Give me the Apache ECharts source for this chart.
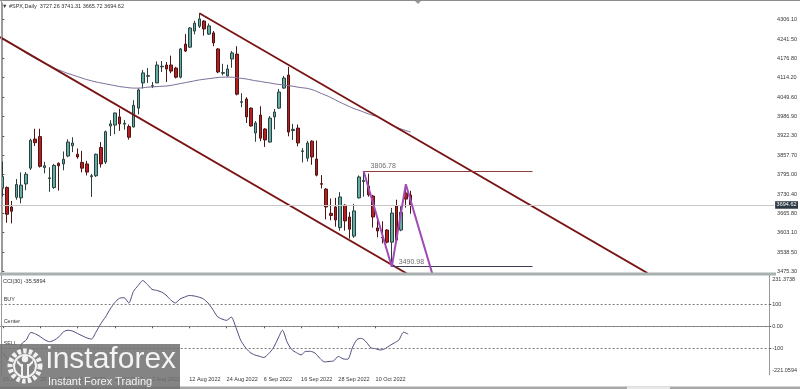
<!DOCTYPE html>
<html><head><meta charset="utf-8">
<script src="https://cdn.jsdelivr.net/npm/echarts@6/dist/echarts.min.js"></script>
<style>html,body{margin:0;padding:0;background:#fff}#c{width:800px;height:389px}</style>
</head><body><div id="c"></div>
<script>
// ---------- DATA ----------
const monthDays = [
  ['Jun', [15,16,17,21,22,23,24,27,28,29,30]],
  ['Jul', [1,5,6,7,8,11,12,13,14,15,18,19,20,21,22,25,26,27,28,29]],
  ['Aug', [1,2,3,4,5,8,9,10,11,12,15,16,17,18,19,22,23,24,25,26,29,30,31]],
  ['Sep', [1,2,6,7,8,9,12,13,14,15,16,19,20,21,22,23,26,27,28,29,30]],
  ['Oct', [3,4,5,6,7,10,11,12,13,14,17,18,19]]
];
const opens  = [3750,3752,3688,3720,3718,3764,3816,3912,3920,3818,3782,3752,3832,3830,3856,3890,3862,3835,3830,3788,3791,3884,3836,3955,3958,3985,3961,3953,3952,4014,4097,4119,4086,4097,4150,4156,4156,4146,4116,4225,4215,4268,4284,4301,4258,4262,4209,4129,4120,4176,4192,4033,4044,4014,3932,3991,3945,3902,3985,4014,4080,4123,3940,3948,3871,3849,3905,3846,3765,3747,3667,3688,3620,3694,3655,3592,3718,3772,3757,3724,3619,3588,3612,3572,3691,3612,3734,3727.26];
const closes = [3788,3664,3674,3762,3760,3796,3908,3900,3822,3824,3784,3825,3824,3845,3902,3899,3853,3816,3803,3791,3862,3830,3936,3962,3998,3962,3964,3918,4023,4074,4130,4121,4088,4156,4152,4143,4136,4116,4209,4202,4278,4294,4308,4275,4285,4229,4133,4131,4143,4196,4060,4035,3985,3955,3965,3915,3909,3981,4001,4067,4113,3935,3944,3899,3873,3899,3853,3793,3763,3688,3660,3645,3721,3642,3615,3675,3787,3776,3728,3655,3609,3586,3572,3668,3579,3671,3714,3694.62];
const lows   = [3722,3636,3634,3712,3700,3743,3810,3889,3818,3799,3738,3748,3742,3809,3852,3869,3847,3802,3792,3721,3787,3818,3830,3922,3928,3939,3943,3910,3950,3993,4079,4097,4080,4097,4133,4100,4129,4112,4112,4199,4212,4257,4278,4253,4255,4218,4129,4122,4118,4147,4056,4017,3965,3953,3903,3905,3886,3900,3944,4012,4078,3921,3909,3888,3835,3838,3827,3789,3749,3647,3644,3623,3610,3610,3584,3586,3716,3722,3722,3620,3588,3568,3568,3490.98,3579,3608,3686,3665.72];
const highs  = [3838,3756,3708,3780,3802,3803,3913,3946,3946,3837,3819,3830,3835,3871,3911,3918,3881,3873,3840,3797,3864,3902,3940,3974,3999,4012,3975,3960,4040,4079,4140,4146,4100,4168,4169,4166,4187,4150,4212,4258,4281,4302,4327,4304,4293,4268,4212,4160,4157,4202,4218,4063,4050,4016,3971,4020,3948,3988,4011,4077,4120,4150,3962,3960,3882,3906,3908,3907,3793,3750,3716,3718,3737,3697,3671,3698,3792,3806.78,3798,3728,3652,3641,3615,3685,3712,3690,3762.5,3741.31];
const maValues = [4245,4236,4226,4216,4206,4196,4187,4178,4170,4162,4155,4147,4140,4134,4128,4123,4118,4113,4108,4104,4100,4097,4094,4091,4088,4085,4083,4081,4080,4080,4081,4083,4084,4085,4086,4087,4089,4092,4095,4098,4101,4104,4107,4109,4111,4113,4115,4116,4116,4116,4114,4112,4110,4107,4104,4102,4099,4097,4094,4092,4090,4088,4086,4083,4081,4079,4075,4069,4062,4056,4049,4041,4033,4026,4019,4012,4007,4001,3995,3990,3985,3976,3967,3958,3951,3945,3940,3935];
const cciValues = [-120,-150,-160,-140,-80,-62,-28,-35,-47,-62,-70,-63,-48,-25,-18,-22,-33,-43,-53,-58,-25,12,42,78,108,127,130,106,158,185,208,190,168,163,156,142,120,106,124,133,140,138,133,125,106,78,45,33,27,42,-5,-62,-95,-118,-130,-136,-142,-125,-100,-58,-18,-72,-106,-120,-130,-114,-114,-122,-145,-162,-160,-157,-137,-148,-150,-98,-60,-55,-72,-98,-102,-108,-102,-88,-76,-62,-27,-35.5894];
const priceTicks = [4306.10,4241.50,4176.80,4114.20,4049.60,3986.90,3922.30,3857.70,3795.00,3730.40,3665.80,3603.10,3538.50,3475.30];
const cciTicks = [231.3738, 100, 0, -100, -221.0594];
const cciTickLabels = ['231.3738', '100', '0.00', '-100', '-221.0594'];
const cciLevels = [100, 0, -100];
const cciLevelNames = ['BUY', 'Center', 'SELL'];
const upperTrend = [[42, 4327], [137.5, 3470]];
const lowerTrend = [[-0.5, 4248], [86.5, 3466]];
const zigzag = [[77, 3806.78], [83, 3490.98], [86, 3762.5], [91.7, 3465]];
const levelHigh = [[77, 3806.78], [113, 3806.78]];
const levelLow = [[83, 3490.98], [113, 3490.98]];
const totalSlots = 165;
const labelEvery = 8;

// ---------- BUILD ----------
const dates = [];
monthDays.forEach(([m, days]) => days.forEach(d => dates.push(d + ' ' + m + ' 2022')));
const nBars = dates.length;
const cats = dates.concat(Array.from({length: totalSlots - nBars}, () => ''));
const candles = opens.map((o, i) => [o, closes[i], lows[i], highs[i]]);
const last = nBars - 1;
const lastPrice = closes[last];
const header = '\u25BC #SPX,Daily  ' + [opens[last], highs[last], lows[last], closes[last]].map(v => v.toFixed(2)).join(' ');
const FONT = 'Liberation Sans, Arial, sans-serif';
const TXT = '#353535';
const showLbl = (i) => i % labelEvery === 0 && i < nBars;

const chart = echarts.init(document.getElementById('c'), null, {renderer: 'canvas'});
const option = {
  animation: false,
  backgroundColor: '#ffffff',
  textStyle: {fontFamily: FONT},
  title: [
    {text: header, left: 2, top: 3, padding: 0, textStyle: {fontSize: 5.5, fontWeight: 'normal', color: '#303030', fontFamily: 'Liberation Sans, DejaVu Sans, sans-serif'}},
    {text: 'CCI(30) ' + cciValues[last].toFixed(4), left: 3, top: 278, padding: 0, textStyle: {fontSize: 5.5, fontWeight: 'normal', color: '#303030', fontFamily: FONT}}
  ],
  grid: [
    {left: 0, right: 25, top: 3, height: 269},
    {left: 0, right: 25, top: 275.4, height: 99.5}
  ],
  xAxis: [
    {type: 'category', gridIndex: 0, data: cats, boundaryGap: true, axisLine: {show: false}, axisTick: {show: false}, axisLabel: {show: false}, splitLine: {show: false}},
    {type: 'category', gridIndex: 1, data: cats, boundaryGap: true,
      axisLine: {show: true, lineStyle: {color: '#9a9a9a', width: 1}},
      axisTick: {show: true, interval: (i) => showLbl(i), alignWithLabel: true, length: 2, lineStyle: {color: '#555'}},
      axisLabel: {show: true, interval: (i) => showLbl(i), align: 'left', fontSize: 5.5, color: TXT, margin: 2, fontFamily: FONT},
      splitLine: {show: false}},
    {type: 'value', gridIndex: 0, min: -0.5, max: totalSlots - 0.5, show: false}
  ],
  yAxis: [
    {type: 'value', gridIndex: 0, position: 'right', min: 3473.65, max: 4360.5,
      splitLine: {show: false},
      axisLine: {show: true, lineStyle: {color: '#9a9a9a'}},
      axisTick: {show: true, customValues: priceTicks, length: 2, lineStyle: {color: '#555'}},
      axisLabel: {show: true, customValues: priceTicks, formatter: (v) => v.toFixed(2), fontSize: 5.5, color: TXT, margin: 3, fontFamily: FONT}},
    {type: 'value', gridIndex: 1, position: 'right', min: cciTicks[cciTicks.length - 1], max: cciTicks[0],
      splitLine: {show: false},
      axisLine: {show: true, lineStyle: {color: '#9a9a9a'}},
      axisTick: {show: true, customValues: cciLevels, length: 2, lineStyle: {color: '#555'}},
      axisLabel: {show: true, customValues: cciTicks, margin: 3, fontSize: 5.5, color: TXT, fontFamily: FONT,
        formatter: (v) => {
          let k = 0, best = 1e9;
          cciTicks.forEach((t, j) => { const d = Math.abs(t - v); if (d < best) { best = d; k = j; } });
          const s = cciTickLabels[k];
          if (k === 0) return '{t|' + s + '}';
          if (k === cciTicks.length - 1) return '{b|' + s + '}';
          return s;
        },
        rich: {
          t: {padding: [8, 0, 0, 0], fontSize: 5.5, color: TXT, fontFamily: FONT},
          b: {padding: [0, 0, 8, 0], fontSize: 5.5, color: TXT, fontFamily: FONT}
        }}}
  ],
  series: [
    {type: 'candlestick', xAxisIndex: 0, yAxisIndex: 0, data: candles, barWidth: 3, silent: true,
      itemStyle: {color: '#64ada4', color0: '#b51f1f', borderColor: '#2a403e', borderColor0: '#4f1515', borderWidth: 1},
      markLine: {silent: true, symbol: ['none', 'none'], animation: false,
        lineStyle: {color: '#c6c6c6', type: 'solid', width: 1},
        label: {show: true, position: 'end', formatter: () => lastPrice.toFixed(2), backgroundColor: '#2c3a46', color: '#ffffff', fontSize: 5.5, padding: [1, 1.5, 0.5, 1.5], distance: 1, fontFamily: FONT},
        data: [{yAxis: lastPrice}]}},
    {type: 'line', xAxisIndex: 0, yAxisIndex: 0, data: maValues, symbol: 'none', silent: true, smooth: 0.3,
      lineStyle: {color: '#7a6b98', width: 1}, z: 3},
    {type: 'line', xAxisIndex: 2, yAxisIndex: 0, data: upperTrend, symbol: 'none', silent: true,
      lineStyle: {color: '#781414', width: 1.8}, z: 4},
    {type: 'line', xAxisIndex: 2, yAxisIndex: 0, data: lowerTrend, symbol: 'none', silent: true,
      lineStyle: {color: '#781414', width: 1.8}, z: 4},
    {type: 'line', xAxisIndex: 2, yAxisIndex: 0, data: levelHigh, symbol: 'none', silent: true,
      lineStyle: {color: '#8e3b3b', width: 1, opacity: 0}, z: 4,
      markLine: {silent: true, symbol: ['none', 'none'], animation: false,
        lineStyle: {color: '#8e3b3b', width: 1, type: 'solid'},
        label: {show: true, position: 'insideStartTop', formatter: () => levelHigh[0][1].toFixed(2), color: '#6c6c6c', fontSize: 7, distance: [7, 1], fontFamily: FONT},
        data: [[{coord: levelHigh[0]}, {coord: levelHigh[1]}]]}},
    {type: 'line', xAxisIndex: 2, yAxisIndex: 0, data: levelLow, symbol: 'none', silent: true,
      lineStyle: {color: '#3d3d5c', width: 1, opacity: 0}, z: 4,
      markLine: {silent: true, symbol: ['none', 'none'], animation: false,
        lineStyle: {color: '#3d3d5c', width: 1, type: 'solid'},
        label: {show: true, position: 'insideStartTop', formatter: () => levelLow[0][1].toFixed(2), color: '#6c6c6c', fontSize: 7, distance: [7, 1], fontFamily: FONT},
        data: [[{coord: levelLow[0]}, {coord: levelLow[1]}]]}},
    {type: 'line', xAxisIndex: 2, yAxisIndex: 0, data: zigzag, symbol: 'none', silent: true,
      lineStyle: {color: '#a14cb4', width: 2}, z: 5},
    {type: 'line', xAxisIndex: 1, yAxisIndex: 1, data: cciValues, symbol: 'none', silent: true, smooth: 0.25,
      lineStyle: {color: '#4c4c7c', width: 1}, z: 3,
      markLine: {silent: true, symbol: ['none', 'none'], animation: false,
        lineStyle: {color: '#7a7a7a', width: 1, type: [2, 2]},
        label: {show: true, position: 'insideStartTop', color: TXT, fontSize: 5.5, distance: [3, 1.5], fontFamily: FONT,
          formatter: (p) => cciLevelNames[cciLevels.indexOf(p.value)]},
        data: cciLevels.map(v => ({yAxis: v}))}}
  ],
  graphic: [
    {type: 'rect', z: 50, shape: {x: 0, y: 0, width: 800, height: 1}, style: {fill: '#8c8c8c'}},
    {type: 'rect', z: 50, shape: {x: 1, y: 0, width: 1, height: 375}, style: {fill: '#9a9a9a'}},
    {type: 'rect', z: 50, shape: {x: 0, y: 272.5, width: 776, height: 3}, style: {fill: '#a9b0b0'}},
    {type: 'rect', z: 50, shape: {x: 0, y: 386.5, width: 800, height: 2.5}, style: {fill: '#a8a8a8'}},
    {type: 'rect', z: 51, shape: {x: 627, y: 386.5, width: 43, height: 2.5}, style: {fill: '#e8e8e8'}},
    {type: 'polygon', z: 50, shape: {points: [[415, 1], [421, 1], [418, 4]]}, style: {fill: '#9a9a9a'}},
    {type: 'group', z: 100, children: [
      {type: 'rect', z: 100, shape: {x: 0, y: 344, width: 180, height: 45}, style: {fill: 'rgba(112,112,112,0.86)'}},
      {type: 'circle', z: 101, shape: {cx: 25, cy: 366, r: 15}, style: {fill: 'none', stroke: '#f2f2f2', lineWidth: 5, lineDash: [3.5, 2.2]}},
      {type: 'circle', z: 101, shape: {cx: 25, cy: 366, r: 11}, style: {fill: 'none', stroke: '#f2f2f2', lineWidth: 2}},
      {type: 'circle', z: 102, shape: {cx: 25, cy: 359, r: 3.2}, style: {fill: '#f2f2f2'}},
      {type: 'polygon', z: 102, shape: {points: [[17, 360], [21, 364], [23, 364], [23, 376], [27, 376], [27, 364], [29, 364], [33, 360], [33, 363], [29, 367], [29, 378], [21, 378], [21, 367], [17, 363]]}, style: {fill: '#f2f2f2'}},
      {type: 'text', z: 102, style: {x: 46, y: 345, text: 'instaforex', fill: '#f4f4f4', font: '30px "Liberation Sans", Arial, sans-serif', textVerticalAlign: 'top'}},
      {type: 'text', z: 102, style: {x: 48, y: 376, text: 'Instant Forex Trading', fill: '#f4f4f4', font: '11px "Liberation Sans", Arial, sans-serif', textVerticalAlign: 'top'}}
    ]}
  ]
};
chart.setOption(option);
</script>
</body></html>
